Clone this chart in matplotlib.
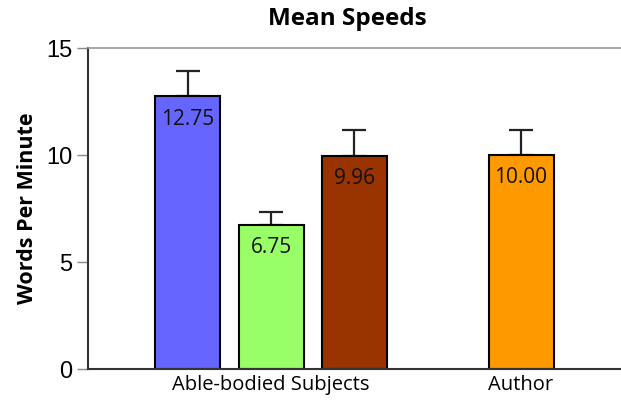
import matplotlib

matplotlib.use("Agg")
import matplotlib.pyplot as plt  # noqa: E402

# data
labels = ["12.75", "6.75", "9.96", "10.00"]
means = [12.75, 6.75, 9.96, 10.00]
errors = [1.17, 0.6, 1.2, 1.17]
positions = [0, 1, 2, 4]
colors = ["#6666FF", "#99FF66", "#993300", "#FF9900"]
group_pos = [1, 4]
group_names = ["Able-bodied Subjects", "Author"]

TXT = "Open Sans"

fig = plt.figure(figsize=(6.21, 4.04), dpi=100)
ax = fig.add_axes([0.1417, 0.0866, 0.8583, 0.7945])

ax.bar(positions, means, 0.78, color=colors, edgecolor="black",
       linewidth=1.5, zorder=2)
ax.errorbar(positions, means, yerr=[[0] * len(errors), errors], fmt="none",
            ecolor="#222222", elinewidth=1.6, capsize=8.5, capthick=1.6,
            zorder=1)

for x, m, lab in zip(positions, means, labels):
    ax.annotate(lab, (x, m), xytext=(0, -16.5), textcoords="offset points",
                ha="center", va="center", fontsize=15, family=TXT,
                color="#111111")

ax.set_xlim(-1.2, 5.2)
ax.set_ylim(0, 15)
ax.set_yticks([0, 5, 10, 15])
ax.set_yticklabels(["0", "5", "10", "15"], family="Liberation Sans",
                   fontsize=17)
ax.set_xticks(group_pos)
ax.set_xticklabels(group_names, family=TXT, fontsize=14.5)
ax.tick_params(axis="x", length=0, pad=4)
ax.tick_params(axis="y", length=8, width=1, color="#888888", pad=3)

ax.spines["right"].set_visible(False)
ax.spines["top"].set_color("#999999")
ax.spines["top"].set_linewidth(1.2)
for s in ("left", "bottom"):
    ax.spines[s].set_color("#333333")
    ax.spines[s].set_linewidth(1.5)

ax.set_ylabel("Words Per Minute", family=TXT, fontweight="bold",
              fontsize=15.5, labelpad=6)
fig.text(0.56, 0.953, "Mean Speeds", family=TXT, fontweight="bold",
         fontsize=17.5, ha="center", va="center")

fig.savefig("out.png", dpi=100)
